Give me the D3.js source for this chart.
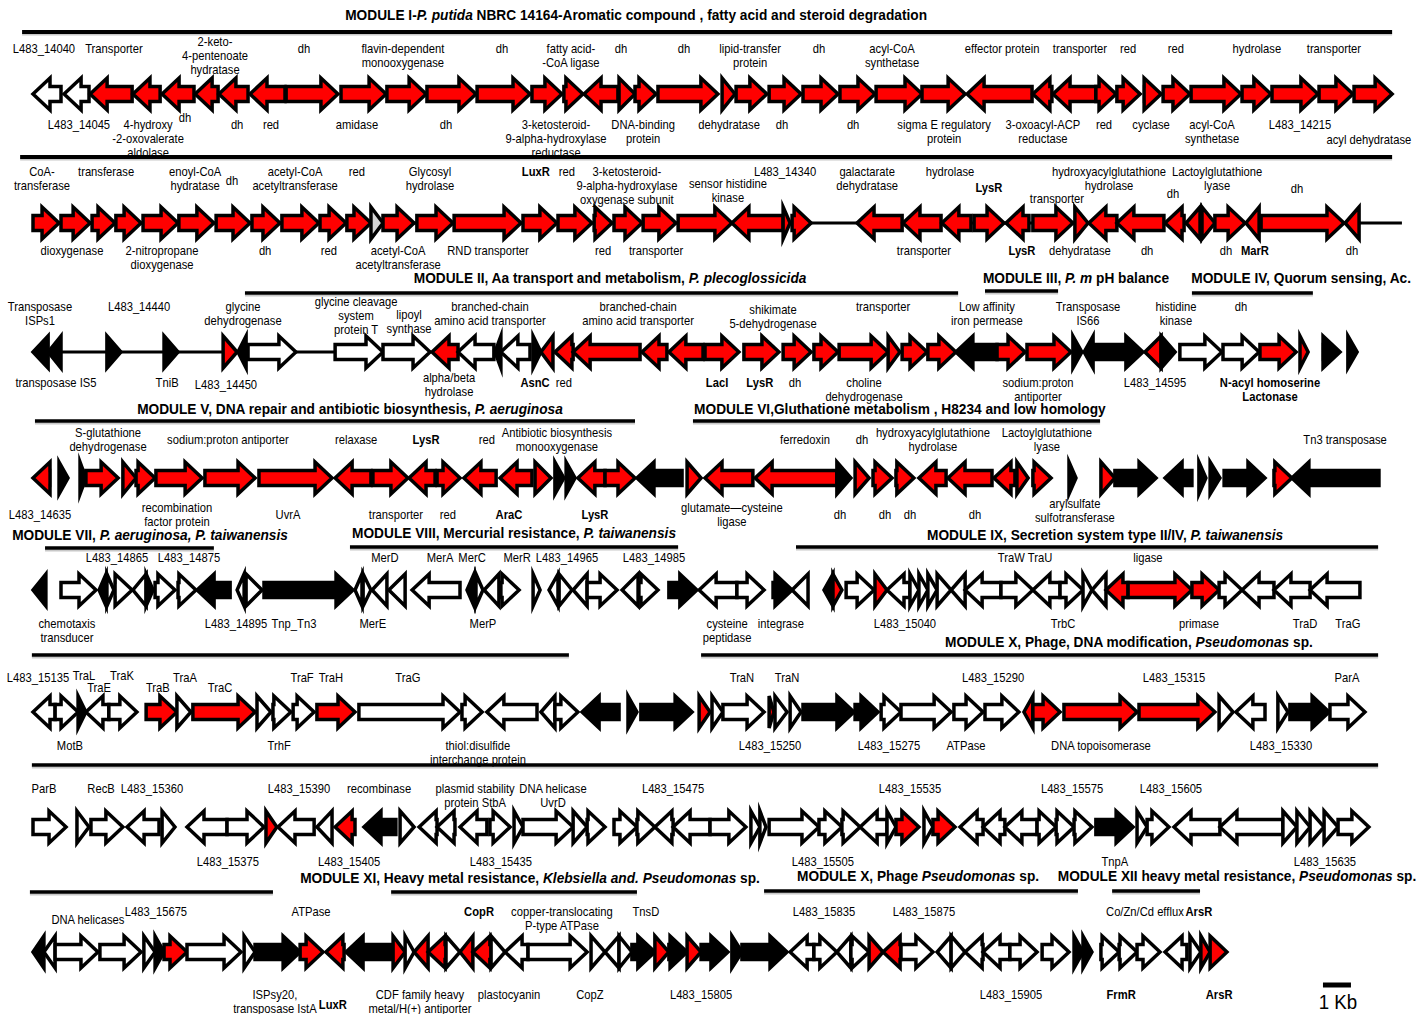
<!DOCTYPE html>
<html><head><meta charset="utf-8">
<script src="https://cdn.jsdelivr.net/npm/d3@7"></script>
<style>
html,body{margin:0;padding:0;background:#fff;}
svg{display:block;}
</style></head>
<body>
<svg id="chart" width="1427" height="1014"></svg>
<script>
// ---------- DATA (positions in kb along each row; strand +1/-1; colour class r/w/k/g) ----------
const row1Genes = [[0.00,1.00,-1,'w'],[1.11,2.00,-1,'w'],[2.04,3.54,-1,'r'],[3.57,4.54,-1,'r'],[4.61,5.75,-1,'r'],[5.79,6.61,-1,'r'],[6.64,7.68,-1,'r'],[7.75,9.00,-1,'r'],[9.04,10.89,1,'r'],[11.00,12.61,1,'r'],[12.64,14.04,1,'r'],[14.07,15.82,1,'r'],[15.86,17.75,1,'r'],[17.82,18.89,1,'r'],[18.96,19.64,1,'r'],[19.68,20.89,-1,'r'],[20.93,21.50,1,'r'],[21.50,22.25,1,'r'],[22.32,24.46,1,'r'],[24.61,25.07,1,'r'],[25.11,26.21,1,'r'],[26.29,27.43,1,'r'],[27.50,28.75,1,'r'],[28.82,30.07,1,'r'],[30.11,31.75,1,'r'],[31.75,33.29,1,'r'],[33.36,35.68,-1,'r'],[35.71,36.39,-1,'r'],[36.43,37.96,-1,'r'],[37.96,38.68,1,'r'],[38.71,39.54,1,'r'],[39.68,40.29,1,'r'],[40.36,41.32,1,'r'],[41.36,43.14,1,'r'],[43.18,44.21,1,'r'],[44.25,45.89,1,'r'],[45.93,47.14,1,'r'],[47.18,48.54,1,'r']];
const row2Genes = [[0.00,0.93,1,'r'],[1.00,2.04,1,'r'],[2.11,2.93,1,'r'],[2.96,3.86,1,'r'],[3.93,5.18,1,'r'],[5.21,6.46,1,'r'],[6.54,7.75,1,'r'],[7.82,8.82,1,'r'],[8.89,10.21,1,'r'],[10.25,11.18,1,'r'],[11.21,12.07,1,'r'],[12.07,12.50,1,'g'],[12.50,13.61,1,'r'],[13.71,15.00,1,'r'],[15.04,17.43,1,'r'],[17.50,18.71,1,'r'],[18.75,19.96,1,'r'],[20.04,20.68,1,'r'],[20.75,21.75,1,'r'],[21.79,22.96,1,'r'],[23.04,24.96,1,'r'],[24.96,26.79,-1,'r'],[26.79,27.04,1,'r'],[27.11,27.79,1,'r'],[29.43,31.04,-1,'r'],[31.07,32.43,-1,'r'],[32.46,33.50,-1,'r'],[33.61,34.68,1,'r'],[34.75,35.57,-1,'r'],[35.71,37.14,1,'r'],[37.21,37.68,1,'r'],[37.71,38.71,-1,'r'],[38.71,40.39,-1,'r'],[40.43,41.11,-1,'r'],[41.18,41.68,-1,'r'],[41.75,42.21,1,'r'],[42.21,43.29,1,'r'],[43.32,43.79,-1,'r'],[43.86,46.82,1,'r'],[46.86,47.36,-1,'r']];
const row3Genes = [[0.00,0.54,-1,'k'],[0.54,1.00,-1,'k'],[2.64,3.14,1,'k'],[4.68,5.18,1,'k'],[6.79,7.29,1,'r'],[7.32,7.61,-1,'k'],[7.68,9.39,1,'w'],[10.79,12.50,1,'w'],[12.50,14.18,1,'w'],[14.25,15.18,-1,'r'],[15.18,16.46,-1,'w'],[16.50,16.71,-1,'k'],[16.71,17.75,-1,'w'],[17.86,18.14,1,'k'],[18.14,18.57,-1,'r'],[18.64,19.29,-1,'r'],[19.29,21.68,-1,'r'],[21.75,22.64,-1,'r'],[22.71,23.93,-1,'r'],[24.00,25.21,1,'r'],[25.39,26.64,1,'r'],[26.79,27.79,1,'r'],[27.89,28.75,1,'r'],[28.79,30.54,1,'r'],[30.54,30.96,1,'r'],[31.04,31.93,1,'r'],[31.96,32.96,1,'r'],[32.96,34.43,-1,'k'],[34.43,35.43,1,'r'],[35.50,37.07,1,'r'],[37.14,37.46,1,'k'],[37.54,37.86,-1,'k'],[37.89,39.64,1,'k'],[39.71,40.29,-1,'r'],[40.29,40.79,1,'k'],[40.96,42.46,1,'w'],[42.50,43.79,1,'w'],[43.82,45.11,1,'r'],[45.25,45.54,1,'r'],[46.07,46.68,1,'k'],[46.96,47.29,1,'k']];
const row4Genes = [[0.00,0.61,-1,'r'],[0.93,1.25,1,'k'],[1.68,1.89,1,'k'],[1.89,3.04,1,'r'],[3.21,3.68,1,'r'],[3.68,4.36,1,'r'],[4.39,6.04,1,'r'],[6.14,7.93,1,'r'],[8.07,10.68,1,'r'],[10.79,12.07,-1,'r'],[12.14,13.39,1,'r'],[13.43,14.36,-1,'r'],[14.43,15.25,1,'r'],[15.39,16.54,-1,'r'],[16.68,17.82,-1,'r'],[17.93,18.50,1,'r'],[18.64,18.96,1,'k'],[19.04,19.36,1,'k'],[19.46,20.43,-1,'r'],[20.43,21.50,1,'r'],[21.57,23.18,-1,'k'],[23.36,23.86,1,'r'],[24.00,25.71,-1,'r'],[25.79,28.71,-1,'r'],[28.71,29.21,1,'k'],[29.36,29.86,1,'r'],[30.00,30.68,1,'r'],[30.82,31.46,1,'r'],[31.64,32.61,-1,'r'],[32.68,34.25,-1,'r'],[34.32,35.07,-1,'r'],[35.14,35.54,1,'r'],[35.71,36.36,1,'r'],[37.00,37.25,1,'k'],[38.14,38.64,1,'r'],[38.64,40.11,1,'k'],[40.43,41.39,-1,'k'],[41.64,41.89,1,'k'],[42.04,42.39,1,'k'],[42.54,44.00,1,'k'],[44.32,44.96,1,'r'],[44.96,48.07,-1,'k']];
const row5Genes = [[0.00,0.46,-1,'k'],[1.00,2.25,1,'w'],[2.36,2.61,-1,'k'],[2.64,2.89,1,'w'],[2.93,3.54,1,'w'],[3.57,4.04,-1,'w'],[4.04,4.29,1,'k'],[4.36,5.07,1,'w'],[5.18,5.82,1,'w'],[5.86,7.04,-1,'k'],[7.29,7.54,-1,'w'],[7.61,8.18,1,'w'],[8.25,11.43,1,'k'],[11.50,11.75,-1,'w'],[11.79,12.07,1,'w'],[12.11,12.64,-1,'w'],[12.71,13.29,-1,'w'],[13.54,15.25,-1,'w'],[15.50,15.75,-1,'k'],[15.82,16.07,1,'w'],[16.11,16.64,-1,'w'],[16.71,17.36,1,'w'],[17.86,18.11,1,'w'],[18.43,18.75,-1,'w'],[18.79,19.25,1,'w'],[19.29,19.79,-1,'w'],[19.79,20.86,1,'w'],[21.04,21.61,-1,'w'],[21.64,22.32,1,'w'],[22.71,23.71,1,'k'],[23.79,25.14,-1,'w'],[25.14,26.11,1,'w'],[26.43,27.11,1,'k'],[27.11,27.68,-1,'w'],[28.25,28.57,-1,'k'],[28.57,28.89,1,'r'],[29.04,30.04,1,'w'],[30.07,30.50,1,'r'],[30.50,31.32,-1,'w'],[31.32,31.64,1,'w'],[31.64,31.96,1,'w'],[31.96,32.29,1,'w'],[32.29,32.79,1,'w'],[32.79,33.29,-1,'w'],[33.29,34.57,-1,'w'],[34.57,35.71,1,'w'],[35.71,36.68,-1,'w'],[36.68,37.50,1,'w'],[37.50,37.82,1,'w'],[37.82,38.32,-1,'w'],[38.32,39.11,-1,'r'],[39.11,41.39,1,'r'],[41.39,42.36,1,'r'],[42.36,43.18,1,'w'],[43.18,44.32,-1,'w'],[44.32,45.61,-1,'w'],[45.61,47.39,-1,'w']];
const row6Genes = [[0.00,0.79,-1,'w'],[0.79,1.61,1,'w'],[1.61,1.89,1,'k'],[1.89,2.71,-1,'w'],[2.71,3.71,1,'w'],[4.04,5.14,1,'r'],[5.14,5.64,1,'w'],[5.71,7.93,1,'r'],[8.00,8.50,1,'w'],[8.57,9.21,1,'w'],[9.29,10.04,1,'w'],[10.14,11.50,1,'r'],[11.64,15.25,1,'w'],[15.32,16.04,1,'w'],[16.21,18.00,-1,'w'],[18.14,18.64,-1,'w'],[18.64,19.46,1,'w'],[19.61,20.93,-1,'k'],[21.25,21.57,1,'k'],[21.71,23.54,1,'k'],[23.79,24.18,1,'r'],[24.25,24.64,1,'w'],[24.64,26.11,1,'w'],[26.29,26.46,1,'r'],[26.50,26.93,1,'w'],[27.04,27.43,1,'w'],[27.50,29.32,1,'k'],[29.36,30.18,1,'k'],[30.29,31.00,1,'w'],[31.00,32.79,1,'w'],[32.89,33.93,1,'w'],[34.00,35.21,1,'w'],[35.39,35.71,-1,'r'],[35.71,36.68,1,'r'],[36.82,39.43,1,'r'],[39.50,42.21,1,'r'],[42.36,42.86,1,'w'],[42.96,44.00,-1,'w'],[44.46,44.82,1,'w'],[44.89,46.29,1,'k'],[46.32,47.57,1,'w']];
const row7Genes = [[0.00,1.18,1,'w'],[1.57,2.00,1,'w'],[2.07,3.21,1,'w'],[3.36,4.50,-1,'w'],[4.61,5.07,1,'w'],[5.50,6.93,-1,'w'],[6.93,8.25,1,'w'],[8.32,8.71,1,'r'],[8.75,10.04,-1,'w'],[10.14,10.68,-1,'w'],[10.79,11.50,-1,'r'],[11.82,12.96,-1,'k'],[13.11,13.61,1,'w'],[13.79,14.43,-1,'w'],[14.43,15.07,-1,'w'],[15.25,16.21,-1,'w'],[16.32,17.04,1,'w'],[17.18,17.50,1,'w'],[17.50,19.29,1,'w'],[19.29,19.79,1,'w'],[19.79,20.43,1,'w'],[20.75,21.57,1,'w'],[21.57,22.21,1,'w'],[22.21,22.86,-1,'w'],[22.86,24.18,-1,'w'],[24.18,25.46,1,'w'],[25.64,25.96,1,'w'],[25.96,26.18,1,'w'],[26.29,28.07,1,'w'],[28.07,28.89,1,'w'],[28.89,29.54,1,'w'],[29.54,30.50,-1,'w'],[30.50,30.82,1,'w'],[30.82,31.64,1,'r'],[31.82,32.14,1,'w'],[32.14,32.93,1,'r'],[33.11,33.93,-1,'w'],[33.93,34.71,-1,'w'],[34.71,35.86,-1,'w'],[35.86,36.54,1,'w'],[36.54,37.18,1,'w'],[37.18,37.82,1,'w'],[37.96,39.29,1,'k'],[39.43,39.79,1,'w'],[39.79,40.57,1,'w'],[40.75,42.39,-1,'w'],[42.39,44.64,-1,'w'],[44.64,45.14,1,'w'],[45.14,45.61,1,'w'],[45.61,46.11,1,'w'],[46.11,46.61,1,'w'],[46.61,47.71,1,'w']];
const row8Genes = [[0.00,0.39,-1,'k'],[0.39,0.79,-1,'w'],[0.79,2.32,1,'w'],[2.39,3.86,1,'w'],[3.96,4.36,1,'w'],[4.36,4.68,1,'k'],[4.68,5.50,1,'r'],[5.50,7.43,1,'w'],[7.54,7.93,1,'w'],[7.93,9.54,1,'k'],[9.54,10.36,1,'r'],[10.46,11.11,-1,'r'],[11.18,12.79,-1,'k'],[12.86,13.29,1,'r'],[13.29,13.61,1,'w'],[13.61,14.11,-1,'r'],[14.11,14.75,-1,'r'],[14.75,15.25,1,'w'],[15.25,15.71,-1,'r'],[15.71,16.36,-1,'r'],[16.36,16.86,1,'w'],[16.86,17.68,-1,'w'],[17.68,19.79,1,'w'],[19.93,20.43,1,'w'],[20.43,20.93,-1,'w'],[20.93,21.39,1,'w'],[21.39,22.21,1,'k'],[22.21,22.71,1,'r'],[22.71,23.36,1,'k'],[23.36,23.86,1,'r'],[23.86,24.82,1,'k'],[24.96,25.32,1,'k'],[25.32,26.93,1,'k'],[27.04,27.89,-1,'w'],[27.89,28.71,1,'w'],[28.71,29.21,-1,'w'],[29.21,29.86,1,'w'],[29.86,30.36,1,'r'],[30.36,31.00,-1,'r'],[31.00,32.14,1,'w'],[32.29,32.79,-1,'w'],[32.79,33.29,1,'w'],[33.29,33.93,-1,'w'],[33.93,34.89,-1,'w'],[34.89,35.86,1,'w'],[36.04,37.00,1,'w'],[37.18,37.50,1,'k'],[37.50,37.82,1,'k'],[38.14,38.79,1,'w'],[38.79,39.43,1,'w'],[39.43,40.25,1,'w'],[40.43,41.21,-1,'w'],[41.32,41.71,1,'w'],[41.71,42.04,1,'r'],[42.04,42.64,1,'r']];

// backbone lines [row index, start kb, end kb]
const backbones = [[1,0,48.89],[2,0,14.2]];

// labels: [kb, text, nudge]
const row1Above = [[0.39,"L483_14040"],[2.89,"Transporter"],[6.5,"2-keto-\n4-pentenoate\nhydratase",-7],[9.68,"dh"],[13.21,"flavin-dependent\nmonooxygenase"],[16.75,"dh"],[19.21,"fatty acid-\n-CoA ligase"],[21.0,"dh"],[23.25,"dh"],[25.61,"lipid-transfer\nprotein"],[28.07,"dh"],[30.68,"acyl-CoA\nsynthetase"],[34.61,"effector protein"],[37.39,"transporter"],[39.11,"red"],[40.82,"red"],[43.71,"hydrolase"],[46.46,"transporter"]];
const row1Below = [[1.64,"L483_14045"],[4.11,"4-hydroxy\n-2-oxovalerate\naldolase"],[5.43,"dh",-7],[7.29,"dh"],[8.5,"red"],[11.57,"amidase"],[14.75,"dh"],[18.68,"3-ketosteroid-\n9-alpha-hydroxylase\nreductase"],[21.79,"DNA-binding\nprotein"],[24.86,"dehydratase"],[26.75,"dh"],[29.29,"dh"],[32.54,"sigma E regulatory\nprotein"],[36.07,"3-oxoacyl-ACP\nreductase"],[38.25,"red"],[39.93,"cyclase"],[42.11,"acyl-CoA\nsynthetase"],[45.25,"L483_14215"],[47.71,"acyl dehydratase",15]];
const row2Above = [[0.32,"CoA-\ntransferase"],[2.61,"transferase"],[5.79,"enoyl-CoA\nhydratase"],[7.11,"dh",9],[9.36,"acetyl-CoA\nacetyltransferase"],[11.57,"red"],[14.18,"Glycosyl\nhydrolase"],[17.96,"LuxR"],[19.07,"red"],[21.21,"3-ketosteroid-\n9-alpha-hydroxylase\noxygenase subunit"],[24.82,"sensor histidine\nkinase",12],[26.86,"L483_14340"],[29.79,"galactarate\ndehydratase"],[32.75,"hydrolase"],[34.14,"LysR",16],[36.57,"transporter",27],[38.43,"hydroxyacylglutathione\nhydrolase"],[40.71,"dh",22],[42.29,"Lactoylglutathione\nlyase"],[45.14,"dh",17]];
const row2Below = [[1.39,"dioxygenase"],[4.61,"2-nitropropane\ndioxygenase"],[8.29,"dh"],[10.57,"red"],[13.04,"acetyl-CoA\nacetyltransferase"],[16.25,"RND transporter"],[20.36,"red"],[22.25,"transporter"],[31.82,"transporter"],[35.32,"LysR"],[37.39,"dehydratase"],[39.79,"dh"],[42.61,"dh"],[43.64,"MarR"],[47.11,"dh"]];
const row3Above = [[0.25,"Transposase\nISPs1"],[3.79,"L483_14440"],[7.5,"glycine\ndehydrogenase"],[11.54,"glycine cleavage\nsystem\nprotein T",-5],[13.43,"lipoyl\nsynthase",8],[16.32,"branched-chain\namino acid transporter"],[21.61,"branched-chain\namino acid transporter"],[26.43,"shikimate\n5-dehydrogenase",3],[30.36,"transporter"],[34.07,"Low affinity\niron permease"],[37.68,"Transposase\nIS66"],[40.82,"histidine\nkinase"],[43.14,"dh"]];
const row3Below = [[0.82,"transposase IS5"],[4.79,"TniB"],[6.89,"L483_14450",2],[14.86,"alpha/beta\nhydrolase",-5],[17.93,"AsnC"],[18.96,"red"],[24.43,"LacI"],[25.96,"LysR"],[27.21,"dh"],[29.68,"choline\ndehydrogenase"],[35.89,"sodium:proton\nantiporter"],[40.07,"L483_14595"],[44.18,"N-acyl homoserine\nLactonase"]];
const row4Above = [[2.68,"S-glutathione\ndehydrogenase"],[6.96,"sodium:proton antiporter"],[11.54,"relaxase"],[14.04,"LysR"],[16.21,"red"],[18.71,"Antibiotic  biosynthesis\nmonooxygenase"],[27.57,"ferredoxin"],[29.61,"dh"],[32.14,"hydroxyacylglutathione\nhydrolase"],[36.21,"Lactoylglutathione\nlyase"],[46.86,"Tn3 transposase"]];
const row4Below = [[0.25,"L483_14635"],[5.14,"recombination\nfactor protein"],[9.11,"UvrA"],[12.96,"transporter"],[14.82,"red"],[17.0,"AraC"],[20.07,"LysR"],[24.96,"glutamate\u2014cysteine\nligase"],[28.82,"dh"],[30.43,"dh"],[31.32,"dh"],[33.64,"dh"],[37.21,"arylsulfate\nsulfotransferase",-4]];
const row5Above = [[3.0,"L483_14865"],[5.57,"L483_14875"],[12.57,"MerD"],[14.54,"MerA"],[15.68,"MerC"],[17.29,"MerR"],[19.07,"L483_14965"],[22.18,"L483_14985"],[35.43,"TraW TraU"],[39.82,"ligase"]];
const row5Below = [[1.21,"chemotaxis\ntransducer"],[7.25,"L483_14895"],[9.32,"Tnp_Tn3"],[12.14,"MerE"],[16.07,"MerP"],[24.79,"cysteine\npeptidase"],[26.71,"integrase"],[31.14,"L483_15040"],[36.79,"TrbC"],[41.64,"primase"],[45.43,"TraD"],[46.96,"TraG"]];
const row6Above = [[0.18,"L483_15135"],[1.82,"TraL",-2],[2.36,"TraE",10],[3.18,"TraK",-2],[4.46,"TraB",10],[5.43,"TraA"],[6.68,"TraC",10],[9.61,"TraF"],[10.64,"TraH"],[13.39,"TraG"],[25.32,"TraN"],[26.93,"TraN"],[34.29,"L483_15290"],[40.75,"L483_15315"],[46.93,"ParA"]];
const row6Below = [[1.32,"MotB"],[8.79,"TrhF"],[15.89,"thiol:disulfide\ninterchange protein"],[26.32,"L483_15250"],[30.57,"L483_15275"],[33.32,"ATPase"],[38.14,"DNA topoisomerase"],[44.57,"L483_15330"]];
const row7Above = [[0.39,"ParB"],[2.43,"RecB"],[4.25,"L483_15360"],[9.5,"L483_15390"],[12.36,"recombinase"],[15.79,"plasmid stability\nprotein StbA"],[18.57,"DNA helicase\nUvrD"],[22.86,"L483_15475"],[31.32,"L483_15535"],[37.11,"L483_15575"],[40.64,"L483_15605"]];
const row7Below = [[6.96,"L483_15375"],[11.29,"L483_15405"],[16.71,"L483_15435"],[28.21,"L483_15505"],[38.64,"TnpA"],[46.14,"L483_15635"]];
const row8Above = [[1.96,"DNA helicases",8],[4.39,"L483_15675"],[9.93,"ATPase"],[15.93,"CopR"],[18.89,"copper-translocating\nP-type ATPase"],[21.89,"TnsD"],[28.25,"L483_15835"],[31.82,"L483_15875"],[39.71,"Co/Zn/Cd efflux"],[41.64,"ArsR"]];
const row8Below = [[8.64,"ISPsy20,\ntransposase IstA"],[10.71,"LuxR",10],[13.82,"CDF family heavy\nmetal/H(+) antiporter"],[17.0,"plastocyanin"],[19.89,"CopZ"],[23.86,"L483_15805"],[34.93,"L483_15905"],[38.86,"FrmR"],[42.36,"ArsR"]];
const boldLabels = ["LuxR","LysR","MarR","AsnC","LacI","AraC","CopR","ArsR","FrmR","N-acyl homoserine\nLactonase"];

// module titles: segments [text, italic]
const moduleTitles = [
  {kb:21.54, y:15, segs:[["MODULE I-",0],["P. putida",1],[" NBRC 14164-Aromatic compound , fatty acid and steroid degradation",0]]},
  {kb:20.61, y:278, segs:[["MODULE II, Aa transport and metabolism, ",0],["P. plecoglossicida",1]]},
  {kb:37.25, y:278, segs:[["MODULE III, ",0],["P. m",1],[" pH balance",0]]},
  {kb:45.29, y:278, segs:[["MODULE IV, Quorum sensing, Ac.",0]]},
  {kb:11.32, y:409, segs:[["MODULE V, DNA repair and antibiotic biosynthesis, ",0],["P. aeruginosa",1]]},
  {kb:30.96, y:409, segs:[["MODULE VI,Gluthatione metabolism , H8234 and low homology",0]]},
  {kb:4.18, y:535, segs:[["MODULE VII, ",0],["P. aeruginosa, P. taiwanensis",1]]},
  {kb:17.18, y:533, segs:[["MODULE VIII, Mercurial resistance, ",0],["P. taiwanensis",1]]},
  {kb:38.29, y:535, segs:[["MODULE IX, Secretion system type II/IV, ",0],["P. taiwanensis",1]]},
  {kb:39.14, y:642, segs:[["MODULE X, Phage, DNA modification, ",0],["Pseudomonas",1],[" sp.",0]]},
  {kb:17.75, y:878, segs:[["MODULE XI, Heavy metal resistance, ",0],["Klebsiella and. Pseudomonas",1],[" sp.",0]]},
  {kb:31.61, y:876, segs:[["MODULE X, Phage ",0],["Pseudomonas",1],[" sp.",0]]},
  {kb:43.0, y:876, segs:[["MODULE XII heavy metal resistance, ",0],["Pseudomonas",1],[" sp.",0]]}
];
// module bracket lines [start kb, end kb, y]
const moduleLines = [[-0.39,48.54,32],[-0.46,48.54,157],[7.57,33.04,293],[34.0,36.61,291],[41.39,45.71,293],
  [0.07,21.5,421],[23.57,38.11,421],[0.43,6.46,548],[11.32,23.04,547],[27.25,48.04,547],
  [-0.04,19.14,655],[23.86,48.04,655],[-0.04,48.04,765],
  [-0.11,8.57,892],[12.79,21.57,892],[26.11,37.32,891],[38.54,41.68,891]];
const scaleBarKb = [46.07, 47.07];
const scaleBarLabel = "1 Kb";

// ---------- LAYOUT ----------
const rows = [
  {genes:row1Genes, above:row1Above, below:row1Below, y:94,  ay:49,  by:125, align:'top'},
  {genes:row2Genes, above:row2Above, below:row2Below, y:223, ay:172, by:251, align:'top'},
  {genes:row3Genes, above:row3Above, below:row3Below, y:352, ay:307, by:383, align:'top'},
  {genes:row4Genes, above:row4Above, below:row4Below, y:478, ay:440, by:515, align:'center'},
  {genes:row5Genes, above:row5Above, below:row5Below, y:590, ay:558, by:624, align:'top'},
  {genes:row6Genes, above:row6Above, below:row6Below, y:712, ay:678, by:746, align:'top'},
  {genes:row7Genes, above:row7Above, below:row7Below, y:827, ay:789, by:862, align:'top'},
  {genes:row8Genes, above:row8Above, below:row8Below, y:952, ay:912, by:995, align:'top'}
];
const FONT = "'Liberation Sans',Arial,sans-serif";
const colors = {r:'#ff0000', w:'#ffffff', k:'#000000', g:'#d4d4d4'};
const HEAD = 17, BH = 7.5, HH = 16, LH = 14;

const svg = d3.select('#chart');
svg.append('rect').attr('width',1427).attr('height',1014).attr('fill','#fff');
const x = d3.scaleLinear().domain([0, 50]).range([33, 33 + 50*28]);

// measure fonts so the narrow (Calibri-like) widths of the original are matched
function measure(str, size, weight) {
  const t = svg.append('text').attr('font-family',FONT).attr('font-size',size).attr('font-weight',weight).text(str);
  const w = t.node().getComputedTextLength(); t.remove(); return w;
}
const labelSX = 83 / measure("flavin-dependent", 12, 'normal');
const titleSX = 582 / measure("MODULE I-P. putida NBRC 14164-Aromatic compound , fatty acid and steroid degradation", 15, 'bold');

function genePath(d, yc) {
  const x0 = x(d[0]), x1 = x(d[1]), len = x1 - x0, s = d[2];
  const p = d3.path();
  if (len <= HEAD) {
    if (s > 0) { p.moveTo(x0, yc-HH); p.lineTo(x1, yc); p.lineTo(x0, yc+HH); }
    else { p.moveTo(x1, yc-HH); p.lineTo(x0, yc); p.lineTo(x1, yc+HH); }
  } else if (s > 0) {
    const xb = x1 - HEAD;
    p.moveTo(x0, yc-BH); p.lineTo(xb, yc-BH); p.lineTo(xb, yc-HH); p.lineTo(x1, yc);
    p.lineTo(xb, yc+HH); p.lineTo(xb, yc+BH); p.lineTo(x0, yc+BH);
  } else {
    const xb = x0 + HEAD;
    p.moveTo(x1, yc-BH); p.lineTo(xb, yc-BH); p.lineTo(xb, yc-HH); p.lineTo(x0, yc);
    p.lineTo(xb, yc+HH); p.lineTo(xb, yc+BH); p.lineTo(x1, yc+BH);
  }
  p.closePath();
  return p.toString();
}

// module lines (with faint shadow)
const gl = svg.append('g');
moduleLines.forEach(([a,b,y], i) => {
  gl.append('line').attr('x1',x(a)).attr('x2',x(b)).attr('y1',y+2.5).attr('y2',y+2.5)
    .attr('stroke','#c8c8c8').attr('stroke-width',2);
  gl.append('line').attr('x1',x(a)).attr('x2',x(b)).attr('y1',y).attr('y2',y)
    .attr('stroke','#000').attr('stroke-width', i < 2 ? 4 : 3.5);
});

// backbones
backbones.forEach(([ri,a,b]) => {
  svg.append('line').attr('x1',x(a)).attr('x2',x(b)).attr('y1',rows[ri].y).attr('y2',rows[ri].y)
    .attr('stroke','#000').attr('stroke-width',3);
});

// genes
rows.forEach(r => {
  svg.append('g').selectAll('path').data(r.genes).join('path')
    .attr('d', d => genePath(d, r.y))
    .attr('fill', d => colors[d[3]])
    .attr('stroke', '#000').attr('stroke-width', 3.5)
    .attr('stroke-linejoin','miter').attr('stroke-miterlimit', 6);
});

// labels
function drawLabels(list, r, side) {
  const g = svg.append('g').attr('font-family', FONT).attr('font-size', 12).attr('fill','#000');
  list.forEach(([kb, txt, nudge]) => {
    const lines = txt.split("\n");
    let y0 = side === 'a' ? r.ay : r.by;
    if (r.align === 'center') y0 -= (lines.length - 1) * LH / 2;
    y0 += (nudge || 0);
    const t = g.append('text').attr('text-anchor','middle')
      .attr('transform', `translate(${x(kb)},0) scale(${labelSX},1)`)
      .attr('font-weight', boldLabels.includes(txt) ? 'bold' : 'normal');
    lines.forEach((ln, i) => t.append('tspan').attr('x', 0).attr('y', y0 + i*LH + 4.3).text(ln));
  });
}
rows.forEach(r => { drawLabels(r.above, r, 'a'); drawLabels(r.below, r, 'b'); });

// module titles
moduleTitles.forEach(m => {
  const t = svg.append('text').attr('x', 0).attr('y', m.y + 5.5).attr('text-anchor','middle')
    .attr('transform', `translate(${x(m.kb)},0) scale(${titleSX},1)`)
    .attr('font-family', FONT).attr('font-size', 15).attr('font-weight','bold');
  m.segs.forEach(([s, it]) => t.append('tspan').attr('font-style', it ? 'italic' : 'normal').text(s));
});

// scale bar
svg.append('line').attr('x1', x(scaleBarKb[0])).attr('x2', x(scaleBarKb[1])).attr('y1',985).attr('y2',985)
  .attr('stroke','#000').attr('stroke-width',5);
svg.append('text').attr('x', 0).attr('y', 1009).attr('text-anchor','middle')
  .attr('transform', `translate(${(x(scaleBarKb[0]) + x(scaleBarKb[1]))/2 + 1},0) scale(${labelSX},1)`)
  .attr('font-family', FONT).attr('font-size', 20).text(scaleBarLabel);
</script>
</body></html>
